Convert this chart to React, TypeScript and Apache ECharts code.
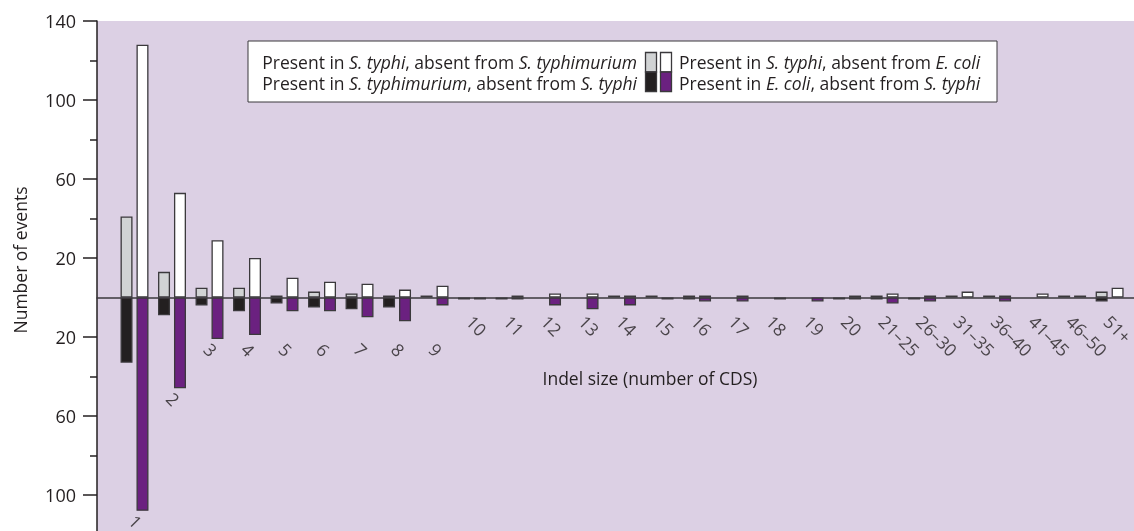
import React, { useEffect, useRef } from "react";
import * as echarts from "echarts";

// ---------- data ----------
const categories = [
  "1", "2", "3", "4", "5", "6", "7", "8", "9", "10", "11", "12", "13", "14", "15", "16", "17", "18", "19", "20",
  "21–25", "26–30", "31–35", "36–40", "41–45", "46–50", "51+",
];
// Present in S. typhi, absent from S. typhimurium (grey, up)
const typhiNotTyphimurium = [41, 13, 5, 5, 1, 3, 2, 1, 1, 0, 0, 0, 0, 1, 1, 1, 0, 0, 0, 0, 1, 0, 1, 1, 0, 1, 3];
// Present in S. typhi, absent from E. coli (white, up)
const typhiNotEcoli = [128, 53, 29, 20, 10, 8, 7, 4, 6, 0, 1, 2, 2, 1, 0, 1, 1, 0, 0, 1, 2, 1, 3, 1, 2, 1, 5];
// Present in S. typhimurium, absent from S. typhi (black, down)
const typhimuriumNotTyphi = [33, 9, 4, 7, 3, 5, 6, 5, 0, 1, 1, 0, 0, 0, 0, 1, 0, 0, 0, 1, 1, 1, 0, 0, 0, 0, 2];
// Present in E. coli, absent from S. typhi (purple, down)
const ecoliNotTyphi = [108, 46, 21, 19, 7, 7, 10, 12, 4, 1, 1, 4, 6, 4, 1, 2, 2, 1, 2, 1, 3, 2, 0, 2, 0, 0, 0];

const yTickValues = [-140, -120, -100, -80, -60, -40, -20, 0, 20, 40, 60, 80, 100, 120, 140];

const legendLeft = [
  "Present in {i|S. typhi}, absent from {i|S. typhimurium}",
  "Present in {i|S. typhimurium}, absent from {i|S. typhi}",
];
const legendRight = [
  "Present in {i|S. typhi}, absent from {i|E. coli}",
  "Present in {i|E. coli}, absent from {i|S. typhi}",
];

// ---------- styles ----------
const FONT = "'Open Sans', sans-serif";
const FS = 17.5;
const TEXT = "#231f20";
const BG = "#dcd0e4";
const GREY = "#d1d3d4";
const WHITE = "#ffffff";
const BLACK = "#231f20";
const PURPLE = "#6b2180";
const EDGE = "#3b393c";

const toUp = (arr: number[]) => arr.map((v, i) => (v ? [i + 1, v] : [i + 1, null]));
const toDown = (arr: number[]) => arr.map((v, i) => (v ? [i + 1, -v] : [i + 1, null]));

const labelDepth = (i: number) =>
  i < 2 ? -(Math.max(typhimuriumNotTyphi[i], ecoliNotTyphi[i]) + 5) : i < 9 ? -26 : -12;

export default function App() {
  const ref = useRef<HTMLDivElement>(null);

  useEffect(() => {
    if (!ref.current) return;
    const chart = echarts.init(ref.current, null, { renderer: "svg" });

    const barBase = {
      type: "bar",
      barWidth: 12,
      barGap: "33%",
      silent: true,
      itemStyle: { borderColor: EDGE, borderWidth: 1.3 },
    };

    const LH = 21.5;
    const richI = { fontStyle: "italic", fontSize: FS, fontFamily: FONT, fill: TEXT, lineHeight: LH };
    const legendText = (x: number, y: number, lines: string[], align: string) => ({
      type: "text",
      x,
      y,
      silent: true,
      style: {
        text: lines.join("\n"),
        align,
        verticalAlign: "middle",
        fontSize: FS,
        lineHeight: LH,
        fontFamily: FONT,
        fill: TEXT,
        rich: { i: richI },
      },
    });
    const swatch = (x: number, y: number, fill: string) => ({
      type: "rect",
      silent: true,
      shape: { x, y, width: 11, height: 19.5 },
      style: { fill, stroke: EDGE, lineWidth: 1.3 },
    });

    chart.setOption({
      animation: false,
      textStyle: { fontFamily: FONT },
      grid: {
        left: 97,
        top: 21,
        right: 0,
        height: 553,
        show: true,
        backgroundColor: BG,
        borderWidth: 0,
      },
      xAxis: {
        type: "value",
        min: 0,
        max: 27.65,
        axisLine: { show: true, onZero: true, onZeroAxisIndex: 0, lineStyle: { color: EDGE, width: 1.5 } },
        axisTick: { show: false },
        axisLabel: { show: false },
        splitLine: { show: false },
      },
      yAxis: [
        {
          type: "value",
          min: -140,
          max: 140,
          interval: 40,
          axisLine: { show: true, lineStyle: { color: TEXT, width: 1.5 } },
          axisTick: { show: true, length: 14, lineStyle: { color: TEXT, width: 1.5 } },
          axisLabel: {
            margin: 21,
            fontSize: 18,
            fontFamily: FONT,
            color: TEXT,
            formatter: (v: number) => (v <= -140 ? "" : String(Math.abs(v))),
          },
          splitLine: { show: false },
        },
        {
          type: "category",
          data: yTickValues.map(String),
          boundaryGap: false,
          position: "left",
          axisLine: { show: false },
          axisLabel: { show: false },
          axisTick: {
            show: true,
            length: 7,
            interval: (_i: number, v: string) => {
              const n = Math.abs(Number(v));
              return n !== 0 && n % 40 === 0;
            },
            lineStyle: { color: TEXT, width: 1.5 },
          },
          splitLine: { show: false },
        },
      ],
      series: [
        { ...barBase, name: "grey", stack: "left", data: toUp(typhiNotTyphimurium), itemStyle: { ...barBase.itemStyle, color: GREY } },
        { ...barBase, name: "black", stack: "left", data: toDown(typhimuriumNotTyphi), itemStyle: { ...barBase.itemStyle, color: BLACK } },
        { ...barBase, name: "white", stack: "right", data: toUp(typhiNotEcoli), itemStyle: { ...barBase.itemStyle, color: WHITE } },
        { ...barBase, name: "purple", stack: "right", data: toDown(ecoliNotTyphi), itemStyle: { ...barBase.itemStyle, color: PURPLE } },
        {
          type: "scatter",
          silent: true,
          symbolSize: 1,
          itemStyle: { color: "rgba(0,0,0,0)" },
          data: categories.map((c, i) => [i + 1, labelDepth(i)]),
          label: {
            show: true,
            position: "right",
            distance: 0,
            offset: [-4, 0],
            rotate: -45,
            fontSize: FS,
            fontFamily: FONT,
            color: TEXT,
            formatter: (p: any) => categories[p.dataIndex],
          },
        },
      ],
      graphic: [
        {
          type: "rect",
          silent: true,
          shape: { x: 248, y: 41, width: 749, height: 61 },
          style: { fill: "#ffffff", stroke: EDGE, lineWidth: 1 },
        },
        legendText(637, 72.5, legendLeft, "right"),
        legendText(679, 72.5, legendRight, "left"),
        swatch(645.5, 52.5, GREY),
        swatch(645.5, 72, BLACK),
        swatch(660.5, 52.5, WHITE),
        swatch(660.5, 72, PURPLE),
        {
          type: "text",
          x: 20,
          y: 260,
          rotation: Math.PI / 2,
          silent: true,
          style: {
            text: "Number of events",
            align: "center",
            verticalAlign: "middle",
            fontSize: FS,
            fontFamily: FONT,
            fill: TEXT,
          },
        },
        {
          type: "text",
          x: 650,
          y: 378,
          silent: true,
          style: {
            text: "Indel size (number of CDS)",
            align: "center",
            verticalAlign: "middle",
            fontSize: FS,
            fontFamily: FONT,
            fill: TEXT,
          },
        },
      ],
    });

    return () => chart.dispose();
  }, []);

  return (
    <div
      ref={ref}
      style={{ position: "fixed", left: 0, top: 0, width: 1134, height: 600 }}
    />
  );
}
